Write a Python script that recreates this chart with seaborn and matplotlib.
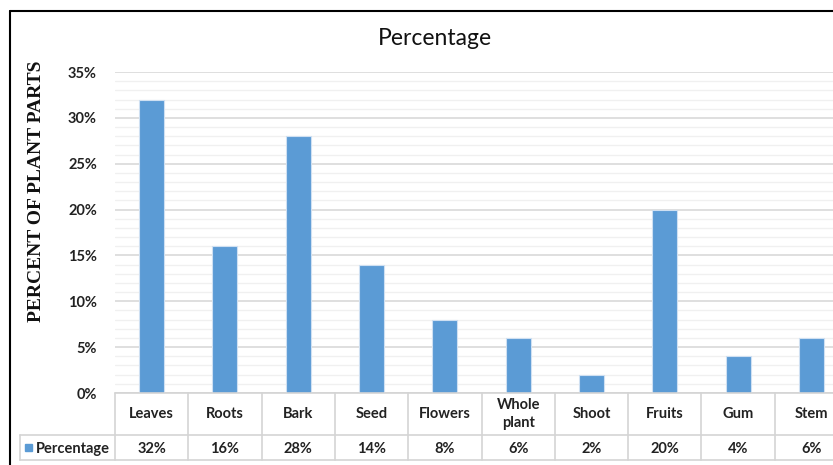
import matplotlib
matplotlib.use("Agg")
import matplotlib.pyplot as plt
from matplotlib.lines import Line2D
from matplotlib.patches import Rectangle
from matplotlib.ticker import MultipleLocator, FuncFormatter
import seaborn as sns
import pandas as pd

categories = ["Leaves", "Roots", "Bark", "Seed", "Flowers", "Whole\nplant",
              "Shoot", "Fruits", "Gum", "Stem"]
values = [32, 16, 28, 14, 8, 6, 2, 20, 4, 6]
series_name = "Percentage"

sns.set_theme(style="white")
plt.rcParams["font.family"] = ["Lato", "DejaVu Sans"]

W, H = 833, 465
fig = plt.figure(figsize=(W / 100, H / 100), dpi=100)
fig.patch.set_facecolor("white")

def fx(px):
    return px / W

def fy(py):
    return 1 - py / H

ax_left, ax_right, ax_top, ax_bottom = 115, 848, 72, 393
ax = fig.add_axes([fx(ax_left), fy(ax_bottom), fx(ax_right - ax_left),
                   (ax_bottom - ax_top) / H])

df = pd.DataFrame({"part": categories, "pct": values})
bar_color = "#5B9BD5"
sns.barplot(data=df, x="part", y="pct", color=bar_color, width=0.34,
            saturation=1, edgecolor="#cfe0f2", linewidth=0.8, ax=ax, zorder=3)

ax.set_xlim(-0.5, len(categories) - 0.5)
ax.set_ylim(0, 35)
ax.yaxis.set_major_locator(MultipleLocator(5))
ax.yaxis.set_minor_locator(MultipleLocator(1))
ax.yaxis.set_major_formatter(FuncFormatter(lambda v, p: f"{int(v)}%"))
ax.grid(axis="y", which="major", color="#d9d9d9", linewidth=1.2, zorder=0)
ax.grid(axis="y", which="minor", color="#f0f0f0", linewidth=1.0, zorder=0)
ax.grid(axis="x", visible=False)
for s in ax.spines.values():
    s.set_visible(False)
ax.set_xticks([])
ax.set_xlabel("")
ax.set_ylabel("")
ax.tick_params(axis="y", which="both", length=0, pad=13, labelsize=10.5,
               labelcolor="#222222")
for t in ax.get_yticklabels():
    t.set_fontweight("bold")

# Data table under the plot
line_c = "#d4d4d4"
row1_bot, row2_bot = 435, 460
cell_w = (ax_right - ax_left) / len(categories)
fs = 10.5
# horizontal rules
fig.add_artist(Line2D([fx(ax_left), fx(ax_right)], [fy(ax_bottom)] * 2,
                      color=line_c, lw=1.2))
fig.add_artist(Line2D([fx(20), fx(ax_right)], [fy(row1_bot)] * 2,
                      color=line_c, lw=1.2))
fig.add_artist(Line2D([fx(20), fx(ax_right)], [fy(row2_bot)] * 2,
                      color=line_c, lw=1.2))
# vertical rules
fig.add_artist(Line2D([fx(20), fx(20)], [fy(row1_bot), fy(row2_bot)],
                      color=line_c, lw=1.2))
for i in range(len(categories) + 1):
    x = ax_left + i * cell_w
    fig.add_artist(Line2D([fx(x), fx(x)], [fy(ax_bottom), fy(row2_bot)],
                          color=line_c, lw=1.2))
# cell texts
for i, (c, v) in enumerate(zip(categories, values)):
    cx = ax_left + (i + 0.5) * cell_w
    fig.text(fx(cx), fy((ax_bottom + row1_bot) / 2), c, ha="center",
             va="center", fontsize=fs, fontweight="bold", color="#222222",
             linespacing=1.35)
    fig.text(fx(cx), fy((row1_bot + row2_bot) / 2 + 1), f"{v}%", ha="center",
             va="center", fontsize=fs, fontweight="bold", color="#222222")
# legend key cell
fig.add_artist(Rectangle((fx(25), fy(451)), fx(7), 7 / H, color=bar_color))
fig.text(fx(36), fy((row1_bot + row2_bot) / 2 + 1), series_name, ha="left",
         va="center", fontsize=fs, fontweight="bold", color="#222222")

# title and y-axis label
fig.text(fx(435), fy(38), "Percentage", ha="center", va="center",
         fontsize=16.5, color="#111111")
fig.text(fx(37), fy(191), "PERCENT OF PLANT PARTS", ha="center", va="center",
         rotation=90, fontsize=14, fontweight="bold", color="#111111",
         family=["Liberation Serif", "DejaVu Serif"])

# outer chart frame
fig.add_artist(Line2D([fx(10), fx(W + 5)], [fy(11)] * 2, color="black", lw=1.5))
fig.add_artist(Line2D([fx(10), fx(10)], [fy(11), fy(H + 5)], color="black", lw=1.5))

fig.savefig("out.png", dpi=100)
